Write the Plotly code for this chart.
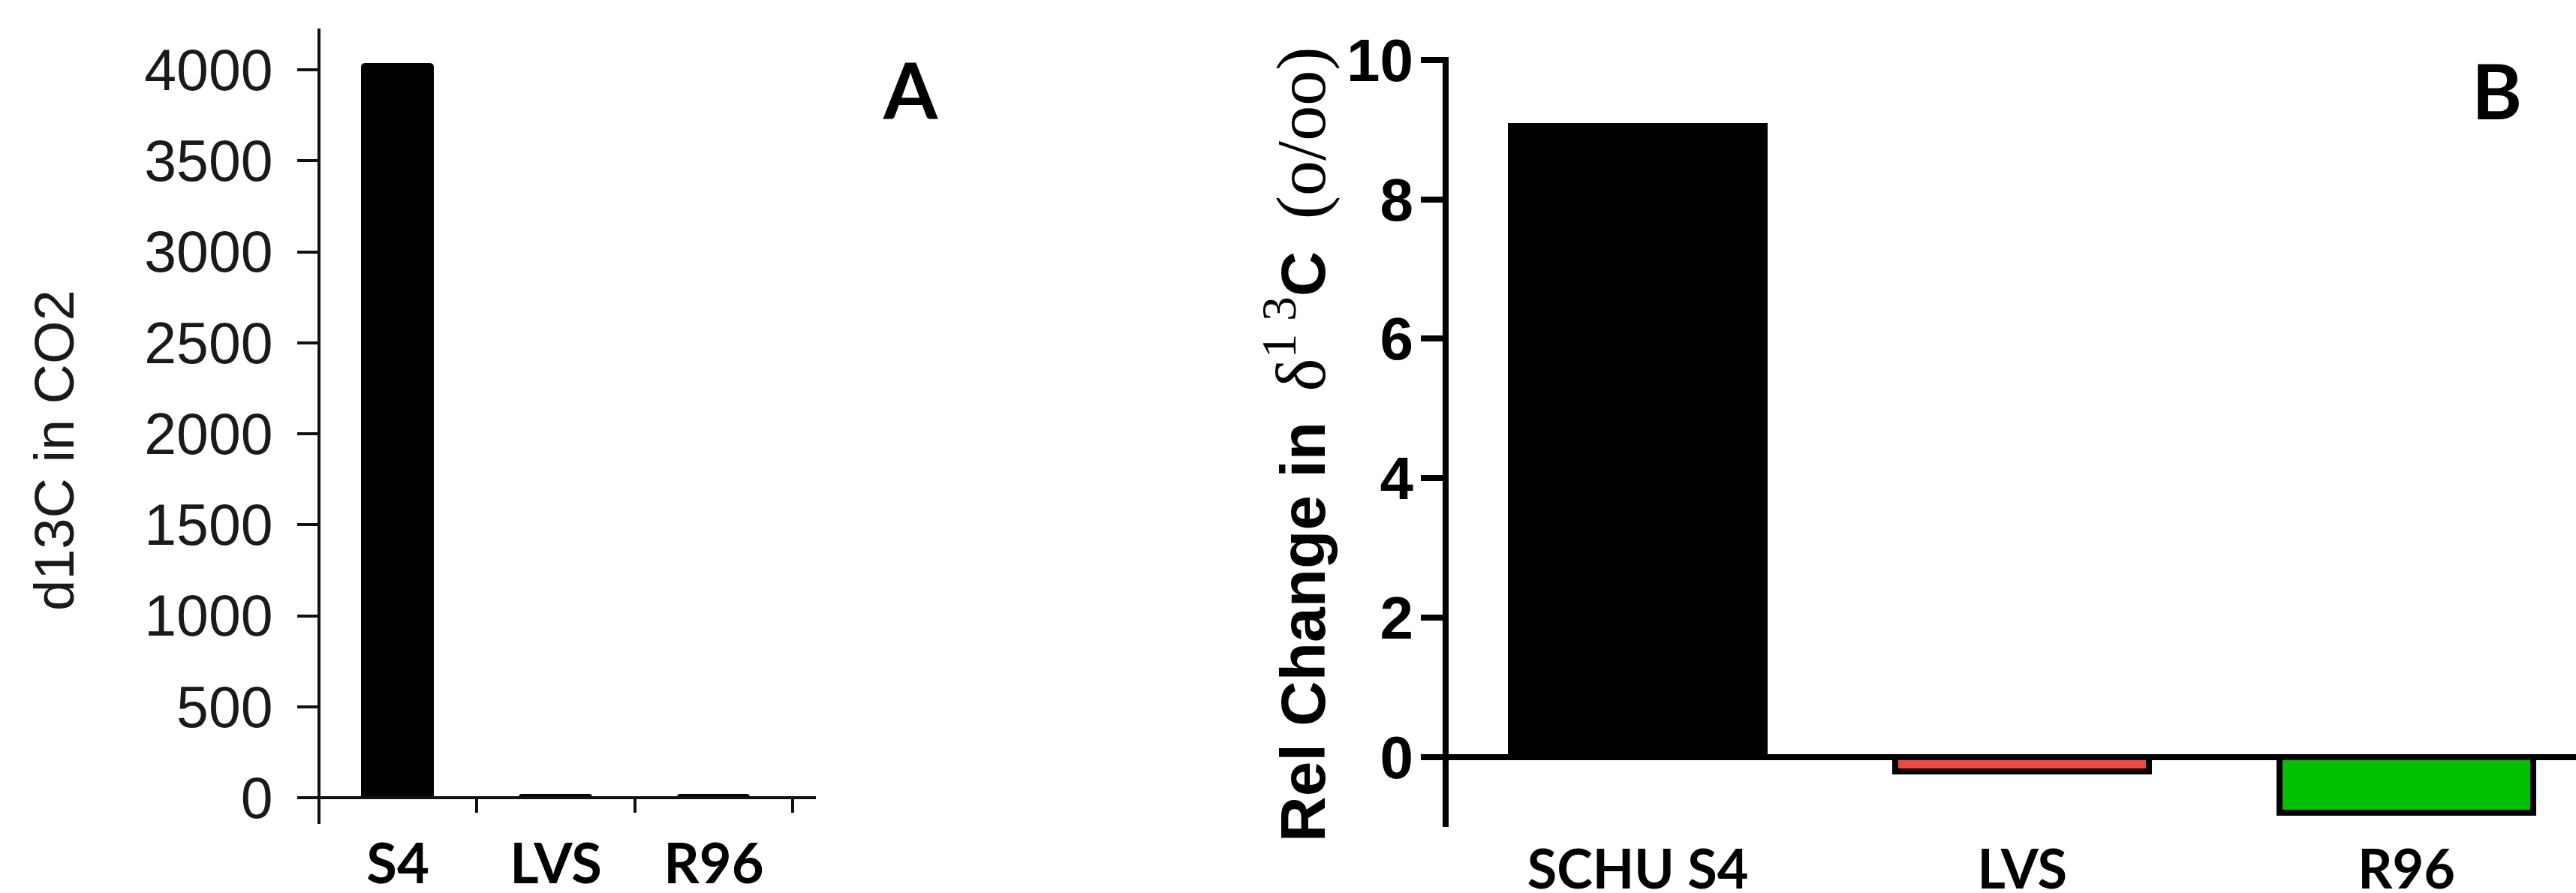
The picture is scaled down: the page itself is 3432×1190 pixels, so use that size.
import plotly.graph_objects as go

# ---- data ----
cats_a = ["S4", "LVS", "R96"]
vals_a = [4030, 12, 12]

cats_b = ["SCHU S4", "LVS", "R96"]
vals_b = [9.05, -0.2, -0.8]
colors_b = ["#000000", "#f04848", "#00c000"]

yticks_a = [0, 500, 1000, 1500, 2000, 2500, 3000, 3500, 4000]
yticks_b = [0, 2, 4, 6, 8, 10]

W, H = 3432, 1190


def px(x):
    return x / W


def py(y):
    return 1 - y / H


fig = go.Figure()
fig.add_trace(go.Bar(
    x=cats_a, y=vals_a, xaxis="x", yaxis="y", width=0.45,
    marker=dict(color="#000000", line=dict(color="#000000", width=3), cornerradius=4),
    showlegend=False, hoverinfo="skip"))
fig.add_trace(go.Bar(
    x=cats_b, y=vals_b, xaxis="x2", yaxis="y2", width=0.66,
    marker=dict(color=colors_b, line=dict(color="#000000", width=8)),
    showlegend=False, hoverinfo="skip"))

sans = "Liberation Sans, Arial, sans-serif"
lato = "Lato, Open Sans, sans-serif"

fig.update_layout(
    width=W, height=H,
    margin=dict(l=0, r=0, t=0, b=0, pad=0, autoexpand=False),
    paper_bgcolor="white", plot_bgcolor="white",
    showlegend=False,
    bargap=0,
    xaxis=dict(
        domain=[px(398), px(1087)], range=[-0.628, 2.647], type="category",
        anchor="free", position=py(1063), automargin=False,
        showline=True, linewidth=4, linecolor="#111111",
        ticks="outside", tickson="boundaries", ticklen=18, tickwidth=4, tickcolor="#111111",
        tickfont=dict(family=lato, size=74, color="#000000", weight="bold"),
        ticklabelstandoff=23,
        showgrid=False, zeroline=False, fixedrange=True),
    yaxis=dict(
        domain=[py(1098), py(38)], range=[-144.3, 4226.8],
        anchor="free", position=px(425), automargin=False,
        showline=True, linewidth=4, linecolor="#111111",
        ticks="outside", ticklen=27, tickwidth=4, tickcolor="#111111",
        tickvals=yticks_a, ticktext=[str(v) for v in yticks_a],
        tickfont=dict(family=sans, size=77, color="#1a1a1a"),
        ticklabelstandoff=17,
        showgrid=False, zeroline=False, fixedrange=True),
    xaxis2=dict(
        domain=[px(1899), 1.0], range=[-0.553, 2.441], type="category",
        anchor="free", position=py(1009), automargin=False,
        showline=True, linewidth=8, linecolor="#000000",
        ticks="",
        tickfont=dict(family=lato, size=72, color="#000000", weight="bold"),
        ticklabelstandoff=85,
        showgrid=False, zeroline=False, fixedrange=True),
    yaxis2=dict(
        domain=[py(1102), py(76)], range=[-1.0, 10.04],
        anchor="free", position=px(1926), automargin=False,
        showline=True, linewidth=8, linecolor="#000000",
        ticks="outside", ticklen=29, tickwidth=8, tickcolor="#000000",
        tickvals=yticks_b, ticktext=[str(v) for v in yticks_b],
        tickfont=dict(family=sans, size=80, color="#000000", weight="bold"),
        ticklabelstandoff=-6,
        showgrid=False, zeroline=False, fixedrange=True),
)

title_b = ("<b>Rel Change in\u2009 </b>"
           "<span style='font-family:Liberation Serif;font-size:94px'>δ<sup>1 3</sup></span>"
           "<b>C</b>"
           "<span style='font-family:Liberation Serif;font-size:94px'>\u2009 (o/oo)</span>")

fig.add_annotation(x=px(72), y=py(600), xref="paper", yref="paper", text="d13C in CO2",
                   textangle=-90, showarrow=False, xanchor="center", yanchor="middle",
                   font=dict(family=sans, size=74, color="#1a1a1a"))
fig.add_annotation(x=px(1726), y=py(592), xref="paper", yref="paper", text=title_b,
                   textangle=-90, showarrow=False, xanchor="center", yanchor="middle",
                   font=dict(family=sans, size=84, color="#000000"))
fig.add_annotation(x=px(1213), y=py(118), xref="paper", yref="paper", text="<b>A</b>",
                   showarrow=False, xanchor="center", yanchor="middle",
                   font=dict(family=lato, size=104, color="#000000"))
fig.add_annotation(x=px(3326), y=py(120), xref="paper", yref="paper", text="<b>B</b>",
                   showarrow=False, xanchor="center", yanchor="middle",
                   font=dict(family=lato, size=102, color="#000000"))

fig.write_html("out.html", config={"displayModeBar": False},
               post_script="document.body.style.margin='0';document.body.style.overflow='hidden';")
